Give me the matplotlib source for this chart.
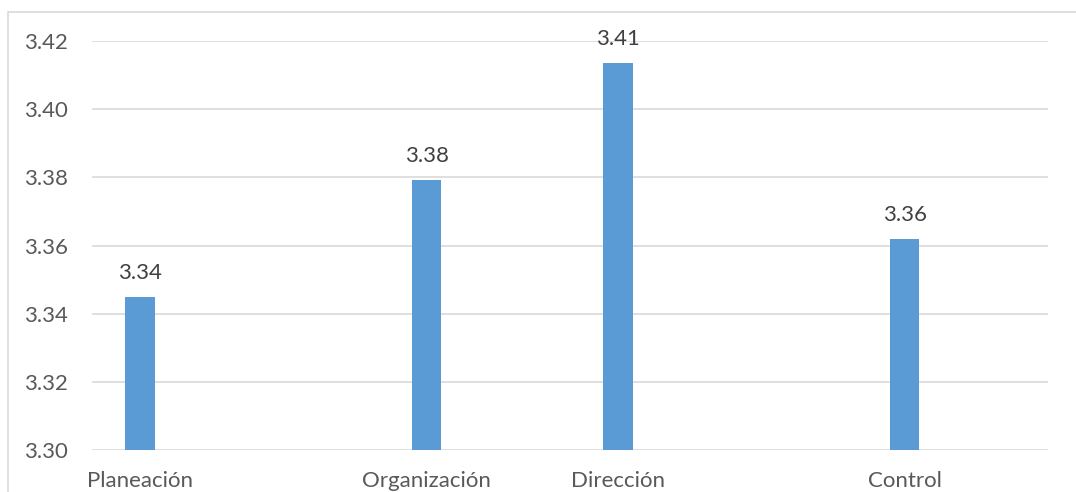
import matplotlib
matplotlib.use("Agg")
import matplotlib.pyplot as plt
from matplotlib.patches import Rectangle

categories = ["Planeación", "Organización", "Dirección", "Control"]
values = [3.3448, 3.3793, 3.4136, 3.3618]
labels = ["3.34", "3.38", "3.41", "3.36"]
slots = [0, 3, 5, 8]          # category slots out of 10
yticks = [3.30, 3.32, 3.34, 3.36, 3.38, 3.40, 3.42]

W, H = 1076, 492
fig = plt.figure(figsize=(W / 100, H / 100), dpi=100)
plt.rcParams['font.family'] = ['Lato', 'DejaVu Sans']

# outer chart frame (clipped at right/bottom)
fig.patches.append(Rectangle((8 / W, -0.1), 1.2, 1 - 12 / H + 0.1,
                             transform=fig.transFigure, fill=False,
                             edgecolor="#d9d9d9", linewidth=1.2))

ax = fig.add_axes([92 / W, 1 - 450 / H, (1048 - 92) / W, (450 - 41) / H])
base = 3.30
ax.bar(slots, [v - base for v in values], bottom=base, width=0.31,
       color="#5b9bd5", zorder=3)
for s, v, l in zip(slots, values, labels):
    ax.annotate(l, (s, v), xytext=(0, 10), textcoords="offset points",
                ha="center", va="bottom", fontsize=16, color="#404040")

ax.set_xlim(-0.5, 9.5)
ax.set_ylim(3.30, 3.42)
ax.set_yticks(yticks)
ax.set_yticklabels([f"{t:.2f}" for t in yticks])
ax.set_xticks(slots)
ax.set_xticklabels(categories)
ax.tick_params(axis="both", length=0, labelsize=16, labelcolor="#595959")
ax.tick_params(axis="y", pad=17)
ax.tick_params(axis="x", pad=15)
ax.grid(axis="y", color="#d9d9d9", linewidth=1.2, zorder=0)
ax.set_axisbelow(True)
for sp in ax.spines.values():
    sp.set_visible(False)

fig.savefig("out.png", dpi=100)
